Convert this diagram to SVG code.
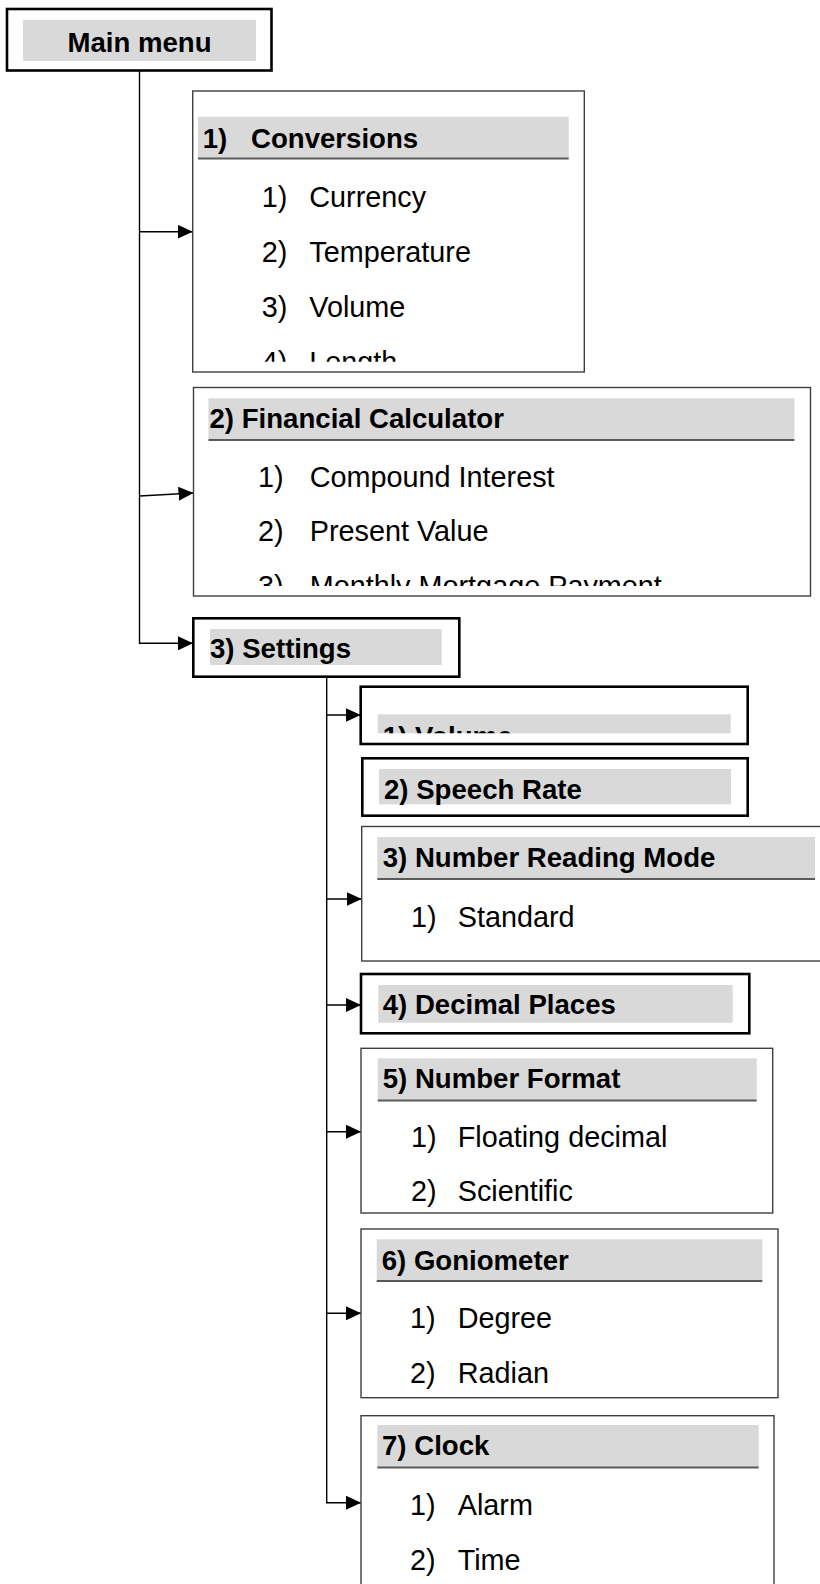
<svg xmlns="http://www.w3.org/2000/svg" width="820" height="1584" viewBox="0 0 820 1584">
<defs>
<style>
.bg{fill:#ffffff}
.thin{fill:#ffffff;stroke:#3f3f3f;stroke-width:1.4}
.thick{fill:#ffffff;stroke:#000000;stroke-width:2.6}
.hd{fill:#d9d9d9}
.ul{stroke:#5a5a5a;stroke-width:2}
.b{font-family:"Liberation Sans",Arial,sans-serif;font-weight:bold;font-size:27.6px;fill:#000}
.r{font-family:"Liberation Sans",Arial,sans-serif;font-size:28.8px;fill:#000}
.con{fill:none;stroke:#000;stroke-width:1.4}
</style>
<marker id="ah" markerUnits="userSpaceOnUse" markerWidth="16" markerHeight="14" refX="15" refY="7" orient="auto">
<path d="M0,0 L15,7 L0,14 Z" fill="#000"/>
</marker>
<clipPath id="c1"><rect x="192" y="91" width="393" height="270.7"/></clipPath>
<clipPath id="c2"><rect x="193" y="387" width="618" height="199"/></clipPath>
<clipPath id="c3"><rect x="377" y="714" width="354" height="19.3"/></clipPath>
</defs>
<rect class="bg" x="0" y="0" width="820" height="1584"/>

<g id="connectors">
<path class="con" d="M139.5,71 V643.3 H193" marker-end="url(#ah)"/>
<path class="con" d="M139.5,231.7 H192.7" marker-end="url(#ah)"/>
<path class="con" d="M139.5,496 L193.5,493" marker-end="url(#ah)"/>
<path class="con" d="M326.7,676.7 V1502.7 H361" marker-end="url(#ah)"/>
<path class="con" d="M326.7,715 H360.7" marker-end="url(#ah)"/>
<path class="con" d="M326.7,899 H361.7" marker-end="url(#ah)"/>
<path class="con" d="M326.7,1005 H361" marker-end="url(#ah)"/>
<path class="con" d="M326.7,1131.7 H361" marker-end="url(#ah)"/>
<path class="con" d="M326.7,1313.3 H361" marker-end="url(#ah)"/>
</g>

<g id="main-menu">
<rect class="thick" x="7" y="9" width="264.5" height="61.5"/>
<rect class="hd" x="23" y="20" width="233" height="41"/>
<text class="b" x="139.5" y="52" text-anchor="middle" font-size="28.6">Main menu</text>
</g>

<g id="conversions">
<rect class="thin" x="192.7" y="91" width="391.6" height="281"/>
<rect class="hd" x="198" y="116.7" width="370.7" height="41.5"/>
<line class="ul" x1="198" y1="158.5" x2="568.7" y2="158.5"/>
<text class="b" x="202.7" y="148">1)</text>
<text class="b" x="251" y="148">Conversions</text>
<g clip-path="url(#c1)">
<text class="r" x="261.7" y="207.3">1)</text><text class="r" x="309.3" y="207.3">Currency</text>
<text class="r" x="261.7" y="262.3">2)</text><text class="r" x="309.3" y="262.3">Temperature</text>
<text class="r" x="261.7" y="317.3">3)</text><text class="r" x="309.3" y="317.3">Volume</text>
<text class="r" x="261.7" y="372.3">4)</text><text class="r" x="309.3" y="372.3">Length</text>
</g>
</g>

<g id="financial-calculator">
<rect class="thin" x="193.5" y="387.5" width="617" height="208.5"/>
<rect class="hd" x="208.4" y="398.3" width="586" height="41"/>
<line class="ul" x1="208.4" y1="440" x2="794.4" y2="440"/>
<text class="b" x="209.5" y="428.3">2) Financial Calculator</text>
<g clip-path="url(#c2)">
<text class="r" x="258" y="487.3">1)</text><text class="r" x="309.7" y="487.3">Compound Interest</text>
<text class="r" x="258" y="541.3">2)</text><text class="r" x="309.7" y="541.3">Present Value</text>
<text class="r" x="258" y="595.7">3)</text><text class="r" x="309.7" y="595.7">Monthly Mortgage Payment</text>
</g>
</g>

<g id="settings">
<rect class="thick" x="193.3" y="618.3" width="266" height="58.4"/>
<rect class="hd" x="210" y="629" width="231.7" height="36"/>
<text class="b" x="210" y="658.3">3) Settings</text>
</g>

<g id="volume">
<rect class="thick" x="360.7" y="686.7" width="387" height="57.3"/>
<rect class="hd" x="377.7" y="714.3" width="353" height="19"/>
<g clip-path="url(#c3)"><text class="b" x="382.7" y="746">1) Volume</text></g>
</g>

<g id="speech-rate">
<rect class="thick" x="362.3" y="758.3" width="385.4" height="57.4"/>
<rect class="hd" x="379" y="769" width="352" height="35.3"/>
<text class="b" x="384" y="799">2) Speech Rate</text>
</g>

<g id="number-reading-mode">
<rect class="thin" x="361.7" y="826.5" width="480" height="134.5"/>
<rect class="hd" x="377.3" y="837" width="437.7" height="42"/>
<line class="ul" x1="377.3" y1="879" x2="815" y2="879"/>
<text class="b" x="382.7" y="867.3">3) Number Reading Mode</text>
<text class="r" x="411" y="926.7">1)</text><text class="r" x="457.7" y="926.7">Standard</text>
</g>

<g id="decimal-places">
<rect class="thick" x="361" y="974" width="388.3" height="59.3"/>
<rect class="hd" x="378.3" y="985" width="354.4" height="37.7"/>
<text class="b" x="382.7" y="1014">4) Decimal Places</text>
</g>

<g id="number-format">
<rect class="thin" x="361" y="1048.3" width="411.7" height="164.7"/>
<rect class="hd" x="377.7" y="1058.3" width="379" height="42"/>
<line class="ul" x1="377.7" y1="1100.5" x2="756.7" y2="1100.5"/>
<text class="b" x="382.7" y="1088.3">5) Number Format</text>
<text class="r" x="411" y="1146.7">1)</text><text class="r" x="457.7" y="1146.7">Floating decimal</text>
<text class="r" x="411" y="1200.7">2)</text><text class="r" x="457.7" y="1200.7">Scientific</text>
</g>

<g id="goniometer">
<rect class="thin" x="361" y="1229" width="417" height="168.7"/>
<rect class="hd" x="376.7" y="1239.3" width="385.6" height="41.5"/>
<line class="ul" x1="376.7" y1="1281" x2="762.3" y2="1281"/>
<text class="b" x="381.7" y="1270">6) Goniometer</text>
<text class="r" x="410" y="1328.3">1)</text><text class="r" x="457.7" y="1328.3">Degree</text>
<text class="r" x="410" y="1383.3">2)</text><text class="r" x="457.7" y="1383.3">Radian</text>
</g>

<g id="clock">
<rect class="thin" x="361" y="1415.7" width="413" height="200"/>
<rect class="hd" x="377.3" y="1425" width="381.4" height="42"/>
<line class="ul" x1="377.3" y1="1467.5" x2="758.7" y2="1467.5"/>
<text class="b" x="382" y="1455">7) Clock</text>
<text class="r" x="410" y="1515">1)</text><text class="r" x="457.7" y="1515">Alarm</text>
<text class="r" x="410" y="1570">2)</text><text class="r" x="457.7" y="1570">Time</text>
</g>
</svg>
